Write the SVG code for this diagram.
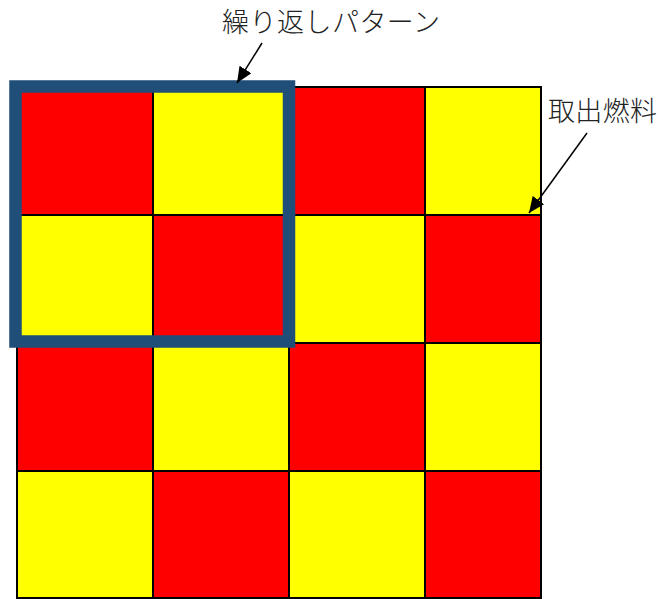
<svg xmlns="http://www.w3.org/2000/svg" width="663" height="599" viewBox="0 0 663 599">
<style>
.r{fill:#FF0000;stroke:#000;stroke-width:2}
.y{fill:#FFFF00;stroke:#000;stroke-width:2}
.lbl{font-family:"Noto Sans CJK JP","Noto Sans CJK SC",sans-serif;font-size:27px;fill:#222;font-weight:300}
.arr{stroke:#000;stroke-width:1.5;fill:none;marker-end:url(#ah)}
</style>
<defs>
<marker id="ah" markerUnits="userSpaceOnUse" markerWidth="18" markerHeight="14" refX="16" refY="7" orient="auto">
<path d="M0,0 L16,7 L0,14 Z" fill="#000"/>
</marker>
</defs>
<rect width="663" height="599" fill="#fff"/>
<g id="grid">
<rect class="r" x="17" y="87" width="136" height="128"/>
<rect class="y" x="153" y="87" width="136" height="128"/>
<rect class="r" x="289" y="87" width="136" height="128"/>
<rect class="y" x="425" y="87" width="116" height="128"/>
<rect class="y" x="17" y="215" width="136" height="128"/>
<rect class="r" x="153" y="215" width="136" height="128"/>
<rect class="y" x="289" y="215" width="136" height="128"/>
<rect class="r" x="425" y="215" width="116" height="128"/>
<rect class="r" x="17" y="343" width="136" height="128"/>
<rect class="y" x="153" y="343" width="136" height="128"/>
<rect class="r" x="289" y="343" width="136" height="128"/>
<rect class="y" x="425" y="343" width="116" height="128"/>
<rect class="y" x="17" y="471" width="136" height="127"/>
<rect class="r" x="153" y="471" width="136" height="127"/>
<rect class="y" x="289" y="471" width="136" height="127"/>
<rect class="r" x="425" y="471" width="116" height="127"/>
</g>
<g id="pattern-frame">
<rect x="15.5" y="86.5" width="273.5" height="255" fill="none" stroke="#1F4E79" stroke-width="12.5"/>
</g>
<g id="label-pattern">
<text class="lbl" x="222" y="32" textLength="218" lengthAdjust="spacing">繰り返しパターン</text>
</g>
<g id="label-fuel">
<text class="lbl" x="548" y="121" textLength="109" lengthAdjust="spacing">取出燃料</text>
</g>
<g id="connectors">
<line class="arr" x1="262" y1="43" x2="237" y2="83"/>
<line class="arr" x1="587" y1="133" x2="529" y2="213"/>
</g>
</svg>
